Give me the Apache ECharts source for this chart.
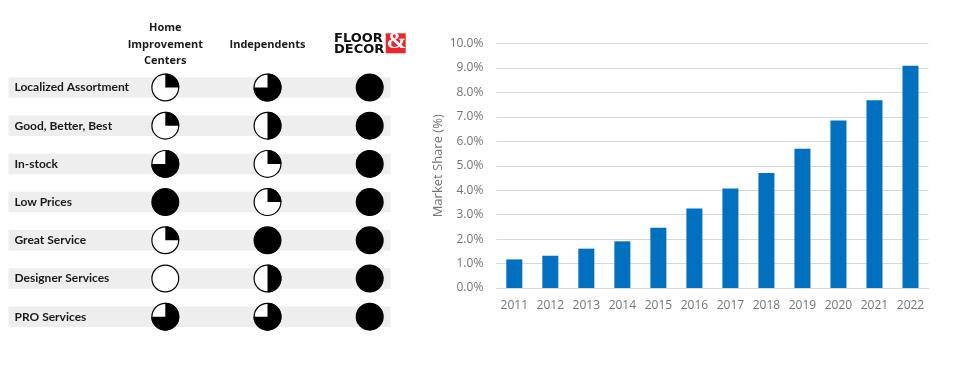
<!DOCTYPE html>
<html>
<head>
<meta charset="utf-8">
<style>
  html, body { margin: 0; padding: 0; background: #fff; }
  #chart { width: 965px; height: 366px; }
</style>
<script src="https://cdn.jsdelivr.net/npm/echarts@6/dist/echarts.min.js"></script>
</head>
<body>
<div id="chart"></div>
<script>
const rowNames = ['Localized Assortment', 'Good, Better, Best', 'In-stock', 'Low Prices', 'Great Service', 'Designer Services', 'PRO Services'];
const columnNames = ['Home\nImprovement\nCenters', 'Independents', 'Floor & Decor'];

// filled quarters of each ball, 0 to 4
const homeCenters = [1, 1, 3, 4, 1, 0, 3];
const independents = [3, 2, 1, 1, 4, 2, 3];
const floorDecor = [4, 4, 4, 4, 4, 4, 4];

const years = ['2011', '2012', '2013', '2014', '2015', '2016', '2017', '2018', '2019', '2020', '2021', '2022'];
const marketShare = [1.17, 1.32, 1.61, 1.91, 2.47, 3.25, 4.07, 4.71, 5.70, 6.85, 7.68, 9.09];

const chart = echarts.init(document.getElementById('chart'));

const ballData = [];
[homeCenters, independents, floorDecor].forEach((list, col) => {
  list.forEach((q, row) => ballData.push([col, row, q]));
});

const renderBall = (params, api) => {
  const p = api.coord([api.value(0), api.value(1)]);
  const q = api.value(2);
  const r = 14;
  const children = [{
    type: 'circle',
    shape: { cx: p[0], cy: p[1], r: r - 0.6 },
    style: { fill: q === 4 ? '#000' : '#fff', stroke: '#000', lineWidth: 1.2 }
  }];
  if (q > 0 && q < 4) {
    children.push({
      type: 'sector',
      shape: {
        cx: p[0], cy: p[1], r0: 0, r: r,
        startAngle: -Math.PI / 2,
        endAngle: -Math.PI / 2 + q * Math.PI / 2,
        clockwise: true
      },
      style: { fill: '#000' }
    });
  }
  return { type: 'group', children };
};

const option = {
  animation: false,
  textStyle: { fontFamily: '"Open Sans", sans-serif' },
  grid: [
    { left: 8.5, width: 382, top: 68.4, height: 267.4 },
    { left: 114.2, width: 306.6, top: 68.4, height: 267.4 },
    { left: 496.3, right: 36.5, top: 43.6, height: 244.4 }
  ],
  xAxis: [
    { gridIndex: 0, type: 'value', min: 0, max: 1, show: false },
    {
      gridIndex: 1,
      type: 'category',
      position: 'top',
      data: columnNames,
      axisLine: { show: false },
      axisTick: { show: false },
      axisLabel: {
        interval: 0,
        margin: 24,
        verticalAlign: 'middle',
        lineHeight: 16.3,
        fontSize: 11,
        fontWeight: 700,
        color: '#1a1a1a',
        formatter: (v) => v === 'Floor & Decor' ? '' : v
      }
    },
    {
      gridIndex: 2,
      type: 'category',
      data: years,
      axisLine: { lineStyle: { color: '#d9d9d9', width: 1.2 } },
      axisTick: { show: false },
      axisLabel: { interval: 0, margin: 12, fontSize: 12, color: '#757575' }
    }
  ],
  yAxis: [
    {
      gridIndex: 0,
      type: 'category',
      inverse: true,
      data: rowNames,
      z: 10,
      axisLine: { show: false },
      axisTick: { show: false },
      axisLabel: {
        inside: true,
        interval: 0,
        margin: 6,
        fontFamily: 'Lato',
        fontSize: 12,
        fontWeight: 700,
        color: '#1a1a1a'
      }
    },
    { gridIndex: 1, type: 'category', inverse: true, data: rowNames, show: false },
    {
      gridIndex: 2,
      type: 'value',
      min: 0,
      max: 10,
      interval: 1,
      name: 'Market Share (%)',
      nameLocation: 'middle',
      nameGap: 52,
      nameTextStyle: { fontSize: 13, color: '#757575' },
      axisLine: { show: false },
      axisTick: { show: false },
      splitLine: { lineStyle: { color: '#d9d9d9', width: 1.2 } },
      axisLabel: { margin: 13, fontSize: 12, color: '#757575', formatter: (v) => v.toFixed(1) + '%' }
    }
  ],
  series: [
    {
      type: 'bar',
      xAxisIndex: 0,
      yAxisIndex: 0,
      data: rowNames.map(() => 1),
      barWidth: 20.5,
      itemStyle: { color: '#eeeeee' },
      silent: true
    },
    {
      type: 'custom',
      xAxisIndex: 1,
      yAxisIndex: 1,
      data: ballData,
      renderItem: renderBall,
      z: 5
    },
    {
      type: 'bar',
      xAxisIndex: 2,
      yAxisIndex: 2,
      data: marketShare,
      barWidth: 16,
      itemStyle: { color: '#0070c0' }
    }
  ],
  // logo stands in for the third column header
  graphic: [
    { type: 'text', left: 334, top: 32.5, style: { text: 'FLOOR', font: '900 13px "DejaVu Sans"', fill: '#111' } },
    { type: 'text', left: 334, top: 43, style: { text: 'DECOR', font: '900 13px "DejaVu Sans"', fill: '#111' } },
    { type: 'rect', left: 385.7, top: 33.3, shape: { width: 20, height: 20 }, style: { fill: '#e8262b' } },
    { type: 'text', left: 386.5, top: 29.5, style: { text: '&', font: '700 24px "Liberation Serif"', fill: '#fff' } }
  ]
};

chart.setOption(option);
window.addEventListener('resize', () => chart.resize());
</script>
</body>
</html>
